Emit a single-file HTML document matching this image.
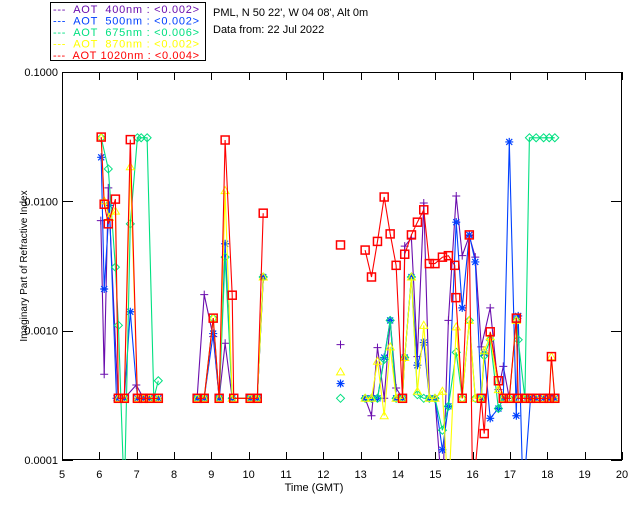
<!DOCTYPE html>
<html><head><meta charset="utf-8"><style>
html,body{margin:0;padding:0;background:#fff;}
svg{display:block;font-family:"Liberation Sans",sans-serif;}
</style></head><body>
<svg id="c" width="640" height="512" viewBox="0 0 640 512" xmlns="http://www.w3.org/2000/svg">
<defs><clipPath id="pc"><rect x="62" y="72" width="560" height="388"/></clipPath></defs>
<rect x="0" y="0" width="640" height="512" fill="#fff"/>
<g>
<rect x="50.5" y="2.5" width="155" height="58" fill="#fff" stroke="#000"/>
<g font-size="11">
<text x="53" y="13" fill="#6a0dad" textLength="146" lengthAdjust="spacing" xml:space="preserve">---  AOT  400nm : &lt;0.002&gt;</text>
<text x="53" y="24.5" fill="#0040ff" textLength="146" lengthAdjust="spacing" xml:space="preserve">---  AOT  500nm : &lt;0.002&gt;</text>
<text x="53" y="36" fill="#00e080" textLength="146" lengthAdjust="spacing" xml:space="preserve">---  AOT  675nm : &lt;0.006&gt;</text>
<text x="53" y="47.5" fill="#ffff00" textLength="146" lengthAdjust="spacing" xml:space="preserve">---  AOT  870nm : &lt;0.002&gt;</text>
<text x="53" y="59" fill="#ff0000" textLength="146" lengthAdjust="spacing" xml:space="preserve">---  AOT 1020nm : &lt;0.004&gt;</text>
</g></g>
<text x="213" y="16" font-size="11">PML, N 50 22', W 04 08', Alt 0m</text>
<text x="213" y="33" font-size="11">Data from: 22 Jul 2022</text>
<g id="axes"></g>
<g id="series" clip-path="url(#pc)"></g>
<text x="314" y="491" font-size="11" text-anchor="middle">Time (GMT)</text>
<text transform="translate(27,266) rotate(-90)" font-size="10" text-anchor="middle">Imaginary Part of Refractive Index</text>
</svg>
<script>
const xTicks=[5,6,7,8,9,10,11,12,13,14,15,16,17,18,19,20];
const yTicks=[0.1,0.01,0.001,0.0001];
const yTickLabels=["0.1000","0.0100","0.0010","0.0001"];
const B=0.0003, L=0.00005;
const t400=[6.04,6.13,6.24,6.5,6.67,6.99,7.18,7.34,7.58, 8.62,8.81,9.05,9.21,9.37,9.56,10.04,10.23,10.39, 12.46, 13.12,13.29,13.45,13.63,13.79,13.95,14.12,14.18,14.36,14.52,14.69,14.84,14.99,15.19,15.35,15.56,15.72,15.91,16.07,16.23,16.47,16.69,16.82,16.98,17.17,17.22,17.4,17.55,17.7,17.9,18.05,18.2];
const v400=[0.0071,0.00046,0.0127,B,B,0.00038,B,B,B, B,0.0019,0.0009,B,0.0008,B,B,B,0.0025, 0.00078, B,0.00022,0.00074,B,0.0012,0.00036,B,0.0045,0.0052,0.00063,0.0097,B,B,L,0.0012,0.011,0.0038,0.0054,0.0037,0.00075,0.0015,0.00035,0.00053,B,B,B,B,B,B,B,B,B];
const t500=[6.05,6.13,6.27,6.46,6.67,6.83,7.02,7.18,7.34,7.58, 8.62,8.81,9.05,9.21,9.37,9.56,10.04,10.23,10.39, 12.46, 13.12,13.29,13.45,13.63,13.79,13.95,14.12,14.18,14.36,14.52,14.69,14.84,14.99,15.19,15.35,15.56,15.72,15.91,16.07,16.23,16.31,16.47,16.69,16.82,16.98,17.17,17.22,17.35,17.55,17.7,17.9,18.05,18.2];
const v500=[0.0219,0.0021,0.0093,B,B,0.0014,B,B,B,B, B,B,0.00095,B,0.0047,B,B,B,0.0026, 0.00039, B,B,B,0.00062,0.0012,B,B,0.00062,0.0026,0.00054,0.00081,B,B,0.00012,0.00026,0.0069,0.0015,0.0055,0.0034,B,0.00067,0.00021,0.00025,B,0.0288,0.00022,0.0013,L,B,B,B,B,B];
const t675=[6.05,6.24,6.43,6.51,6.67,6.83,7.02,7.12,7.28,7.46,7.58, 8.62,8.81,9.05,9.21,9.37,9.56,10.04,10.23,10.39, 12.46, 13.12,13.29,13.45,13.63,13.79,13.95,14.12,14.18,14.36,14.52,14.69,14.84,14.99,15.19,15.35,15.56,15.72,15.91,16.07,16.23,16.31,16.47,16.69,16.82,16.98,17.17,17.22,17.4,17.52,17.7,17.9,18.05,18.2];
const v675=[0.031,0.0178,0.0031,0.0011,L,0.0067,0.031,0.031,0.031,B,0.00041, B,B,0.00125,B,0.0037,B,B,B,0.0026, B, B,B,B,0.0006,0.0012,B,B,0.00062,0.0026,0.00032,B,B,B,0.00017,0.00026,0.00068,B,0.0012,B,B,0.00064,0.00085,0.00025,B,B,0.0012,0.00085,B,0.031,0.031,0.031,0.031,0.031];
const t870=[6.05,6.13,6.27,6.43,6.51,6.67,6.83,7.02,7.18,7.34,7.58, 8.62,8.81,9.05,9.21,9.37,9.56,10.04,10.23,10.39, 12.46, 13.12,13.29,13.45,13.63,13.79,13.95,14.12,14.18,14.36,14.52,14.69,14.84,14.99,15.19,15.35,15.56,15.72,15.91,16.07,16.23,16.31,16.47,16.69,16.82,16.98,17.17,17.22,17.4,17.55,17.7,17.9,18.05,18.11,18.2];
const v870=[0.031,0.0101,0.0075,0.0084,B,B,0.0185,B,B,B,B, B,B,0.00125,B,0.0121,B,B,B,0.0026, 0.00048, B,B,0.00058,0.00022,0.00075,B,B,0.00062,0.0026,0.00034,0.0011,B,B,0.00034,L,0.00107,B,0.0012,B,B,0.0007,0.0009,0.00035,B,B,0.0012,B,B,B,B,B,B,0.00063,B];
const t1020=[6.05,6.13,6.24,6.43,6.51,6.67,6.83,7.02,7.18,7.34,7.58, 8.62,8.81,9.05,9.21,9.37,9.56,9.6,10.04,10.23,10.39, 12.46, 13.12,13.29,13.45,13.63,13.79,13.95,14.12,14.18,14.36,14.52,14.69,14.84,14.99,15.19,15.35,15.52,15.55,15.72,15.91,16.0,16.23,16.31,16.47,16.69,16.82,16.98,17.17,17.22,17.4,17.55,17.7,17.9,18.05,18.11,18.2];
const v1020=[0.0314,0.0095,0.0067,0.0104,B,B,0.030,B,B,B,B, B,B,0.00125,B,0.0298,0.00188,B,B,B,0.0081, 0.0046, 0.0042,0.0026,0.0049,0.0108,0.0056,0.0032,B,0.0039,0.0055,0.0069,0.0086,0.0033,0.0033,0.0037,0.0038,0.0032,0.0018,B,0.0055,L,B,0.00016,0.00098,0.00041,B,B,0.00125,B,B,B,B,B,B,0.00063,B];

const NS="http://www.w3.org/2000/svg";
const X0=62,X1=622,Y0=72,Y1=460;
function xs(t){return X0+(t-5)*(X1-X0)/15;}
function ys(v){return Y0+(-1-Math.log10(v))*(Y1-Y0)/3;}
function mk(tag,at,parent){const e=document.createElementNS(NS,tag);for(const k in at)e.setAttribute(k,at[k]);parent.appendChild(e);return e;}
const ax=document.getElementById('axes');
const frame=mk('rect',{x:X0+0.5,y:Y0+0.5,width:X1-X0-1,height:Y1-Y0-1,fill:'none',stroke:'#000'},ax);


xTicks.forEach(t=>{
  const x=Math.round(xs(t))+0.5;
  mk('line',{x1:x,y1:Y1,x2:x,y2:Y1-8,stroke:'#000'},ax);
  mk('line',{x1:x,y1:Y0,x2:x,y2:Y0+8,stroke:'#000'},ax);
  const tx=mk('text',{x:xs(t),y:Y1+18,'font-size':11,'text-anchor':'middle'},ax);
  tx.textContent=t;
  
  
});
yTicks.forEach((v,i)=>{
  const y=Math.round(ys(v))+0.5;
  mk('line',{x1:X0,y1:y,x2:X0+11,y2:y,stroke:'#000'},ax);
  mk('line',{x1:X1,y1:y,x2:X1-11,y2:y,stroke:'#000'},ax);
  const tx=mk('text',{x:X0-4,y:ys(v)+4,'font-size':11,'text-anchor':'end'},ax);
  tx.textContent=yTickLabels[i];
  
  
});
const sg=document.getElementById('series');
function marker(type,x,y,col,g){
  if(type==='plus'){mk('path',{d:`M${x-4},${y}H${x+4}M${x},${y-4}V${y+4}`,stroke:col,fill:'none'},g);}
  else if(type==='star'){mk('path',{d:`M${x-4},${y}H${x+4}M${x},${y-4}V${y+4}M${x-3},${y-3}L${x+3},${y+3}M${x-3},${y+3}L${x+3},${y-3}`,stroke:col,'stroke-width':1.2,fill:'none'},g);}
  else if(type==='diamond'){mk('path',{d:`M${x},${y-4}L${x+4},${y}L${x},${y+4}L${x-4},${y}Z`,stroke:col,fill:'none'},g);}
  else if(type==='tri'){mk('path',{d:`M${x},${y-4}L${x+4},${y+3}L${x-4},${y+3}Z`,stroke:col,fill:'none'},g);}
  else if(type==='square'){mk('rect',{x:x-4,y:y-4,width:8,height:8,stroke:col,'stroke-width':1.5,fill:'none'},g);}
}
function series(ts,vs,col,type,name){
  const g=mk('g',{},sg);
  
  
  let d='';
  for(let i=0;i<ts.length;i++){
    const cmd=(i===0||ts[i]-ts[i-1]>0.5)?'M':'L';
    d+=cmd+xs(ts[i]).toFixed(1)+','+ys(vs[i]).toFixed(1);
  }
  mk('path',{d:d,stroke:col,'stroke-width':1.1,fill:'none'},g);
  for(let i=0;i<ts.length;i++){ if(vs[i]>L) marker(type,xs(ts[i]),ys(vs[i]),col,g); }
}
series(t400,v400,'#6a0dad','plus','series-400nm');
series(t500,v500,'#0040ff','star','series-500nm');
series(t675,v675,'#00e080','diamond','series-675nm');
series(t870,v870,'#ffff00','tri','series-870nm');
series(t1020,v1020,'#ff0000','square','series-1020nm');
</script>
</body></html>
